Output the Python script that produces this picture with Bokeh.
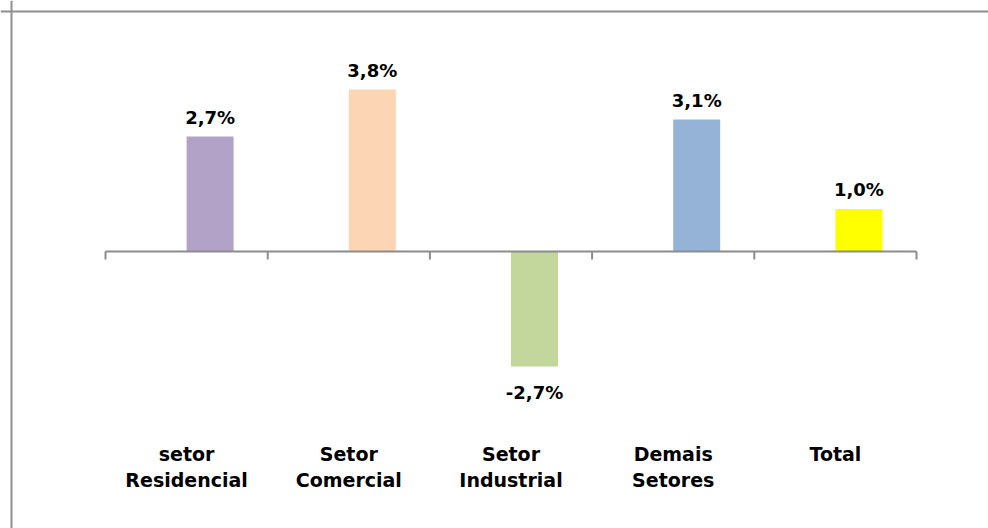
from bokeh.plotting import figure
from bokeh.models import Span, Range1d, ColumnDataSource
from bokeh.core.properties import value
from bokeh.embed import file_html
from bokeh.resources import INLINE

categories = ["setor\nResidencial", "Setor\nComercial", "Setor\nIndustrial", "Demais\nSetores", "Total"]
values = [2.7, 3.8, -2.7, 3.1, 1.0]
labels = ["2,7%", "3,8%", "-2,7%", "3,1%", "1,0%"]
colors = ["#B2A2C7", "#FCD5B5", "#C3D69B", "#95B3D7", "#FFFF00"]

# layout constants
PX_X = 162.2   # px per category
PX_Y = 42.6    # px per percent
W, H = 988, 528
x_start = -105 / PX_X
y_end = 251 / PX_Y

p = figure(width=W, height=H, output_backend="svg", toolbar_location=None,
           x_range=Range1d(x_start, x_start + W / PX_X),
           y_range=Range1d(y_end - H / PX_Y, y_end),
           min_border=0, min_border_left=0, min_border_right=0,
           min_border_top=0, min_border_bottom=0)
p.axis.visible = False
p.grid.visible = False
p.outline_line_color = None
p.background_fill_color = "white"
p.border_fill_color = "white"

# chart border (top and left visible)
p.add_layout(Span(location=(251 - 11) / PX_Y, dimension="width", line_color="#8e8e8e", line_width=2))
p.add_layout(Span(location=-(105 - 11) / PX_X, dimension="height", line_color="#8e8e8e", line_width=2))

n = len(categories)
idx = list(range(n))
bar_w = 47 / PX_X
centers = [i + 0.5 for i in idx]
bar_x = [c + bar_w / 2 for c in centers]

src = ColumnDataSource(dict(
    x=bar_x, top=values, color=colors, label=labels,
    yoff=[-19 if v >= 0 else 26 for v in values],
))
p.vbar(x="x", top="top", bottom=0, width=bar_w, fill_color="color", line_color=None, source=src)

# zero axis line with ticks
p.segment(x0=[0], x1=[n], y0=[0], y1=[0], line_color="#8c8c8c", line_width=2)
tick_len = 8 / PX_Y
p.segment(x0=list(range(n + 1)), x1=list(range(n + 1)), y0=[0] * (n + 1),
          y1=[-tick_len] * (n + 1), line_color="#8c8c8c", line_width=2)

# value labels
p.text(x="x", y="top", text="label", y_offset="yoff", source=src,
       text_align="center", text_baseline="middle",
       text_font=value("DejaVu Sans"), text_font_style="bold",
       text_font_size="18px", text_color="black")

# category labels
line1 = [c.split("\n")[0] for c in categories]
line2 = [c.split("\n")[1] if "\n" in c else "" for c in categories]
p.text(x=centers, y=[0] * n, text=line1, y_offset=202,
       text_align="center", text_baseline="middle",
       text_font=value("DejaVu Sans"), text_font_style="bold",
       text_font_size="19px", text_color="black")
p.text(x=centers, y=[0] * n, text=line2, y_offset=228,
       text_align="center", text_baseline="middle",
       text_font=value("DejaVu Sans"), text_font_style="bold",
       text_font_size="19px", text_color="black")

open("out.html", "w").write(file_html(p, INLINE))
